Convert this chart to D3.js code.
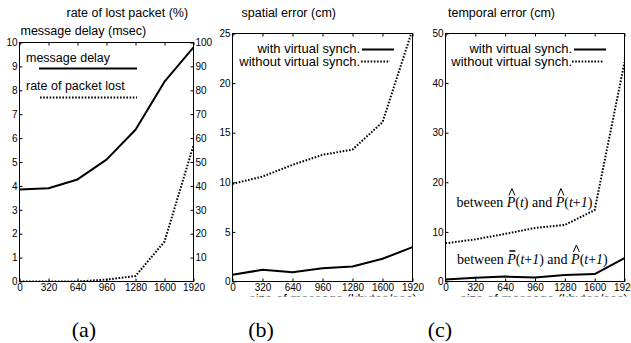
<!DOCTYPE html>
<html>
<head>
<meta charset="utf-8">
<script src="https://cdn.jsdelivr.net/npm/d3@7"></script>
<style>
  body { margin: 0; background: #fff; }
  svg { display: block; }
  text { font-family: "Liberation Sans", Arial, sans-serif; fill: #000; }
  .tick text { font-size: 10px; }
  .serif { font-family: "Liberation Serif", "Times New Roman", serif; }
</style>
</head>
<body>
<div id="chart"></div>
<script>
// message size (kbytes/sec) on every x axis
const sizes = [0, 320, 640, 960, 1280, 1600, 1920];

// (a) message delay (msec) and rate of lost packet (%)
const delayMs = [3.85, 3.9, 4.27, 5.1, 6.35, 8.36, 9.8];
const lostPct = [0, 0, 0, 0.8, 2.3, 16.7, 57];

// (b) spatial error (cm)
const spatialWith = [0.68, 1.18, 0.94, 1.34, 1.51, 2.29, 3.46];
const spatialWithout = [9.85, 10.58, 11.76, 12.77, 13.3, 16.06, 25.4];

// (c) temporal error (cm)
const temporalWith = [0.4, 0.75, 1.0, 0.8, 1.3, 1.5, 4.7];
const temporalWithout = [7.7, 8.5, 9.6, 10.8, 11.4, 14.4, 44.2];

const delayTicks = d3.range(0, 11, 1);
const lostTicks = d3.range(10, 101, 10);
const spatialTicks = [0, 5, 10, 15, 20, 25];
const temporalTicks = [0, 10, 20, 30, 40, 50];

const W = 631, H = 343;
const svg = d3.select('#chart').append('svg').attr('width', W).attr('height', H);

const solid = { width: 2, dash: null };
const dotted = { width: 2, dash: '1.6,1.6' };
const fmt = d3.format('d');

function panel(id, box, yMax, yTicks) {
  const x = d3.scaleLinear().domain([0, 1920]).range([box.left, box.right]);
  const y = d3.scaleLinear().domain([0, yMax]).range([box.bottom, box.top]);
  const g = svg.append('g');

  g.append('clipPath').attr('id', 'clip-' + id)
    .append('rect')
    .attr('x', box.left).attr('y', box.top)
    .attr('width', box.right - box.left).attr('height', box.bottom - box.top);

  g.append('g')
    .attr('transform', `translate(0,${box.bottom})`)
    .call(d3.axisBottom(x).tickValues(sizes).tickFormat(fmt).tickSizeInner(-3).tickSizeOuter(0).tickPadding(2))
    .call((a) => a.select('.domain').remove());
  g.append('g')
    .attr('transform', `translate(0,${box.top})`)
    .call(d3.axisTop(x).tickValues(sizes).tickSizeInner(-3).tickSizeOuter(0).tickFormat(''))
    .call((a) => a.select('.domain').remove());
  g.append('g')
    .attr('transform', `translate(${box.left},0)`)
    .call(d3.axisLeft(y).tickValues(yTicks).tickFormat(fmt).tickSizeInner(-3).tickSizeOuter(0).tickPadding(2))
    .call((a) => a.select('.domain').remove());

  g.append('rect')
    .attr('x', box.left).attr('y', box.top)
    .attr('width', box.right - box.left).attr('height', box.bottom - box.top)
    .attr('fill', 'none').attr('stroke', '#000').attr('stroke-width', 1);

  const lines = g.append('g').attr('clip-path', `url(#clip-${id})`);

  return { g, x, y, lines };
}

function drawLine(p, values, style, yScale) {
  const ys = yScale || p.y;
  const line = d3.line().x((d, i) => p.x(sizes[i])).y((d) => ys(d));
  p.lines.append('path')
    .datum(values)
    .attr('d', line)
    .attr('fill', 'none')
    .attr('stroke', '#000')
    .attr('stroke-width', style.width)
    .attr('stroke-dasharray', style.dash)
    .attr('stroke-linejoin', 'round');
}

function legendSwatch(g, x1, x2, yy, style) {
  g.append('line')
    .attr('x1', x1).attr('x2', x2).attr('y1', yy).attr('y2', yy)
    .attr('stroke', '#000')
    .attr('stroke-width', style.width)
    .attr('stroke-dasharray', style.dash);
}

// the x label sits mostly under the caption strip: only its top shows
function xLabel(p, id, cx, clipY) {
  p.g.append('clipPath').attr('id', 'xl-' + id)
    .append('rect').attr('x', 0).attr('y', 0).attr('width', W).attr('height', clipY);
  p.g.append('text')
    .attr('clip-path', `url(#xl-${id})`)
    .attr('x', cx).attr('y', 302.5)
    .attr('text-anchor', 'middle')
    .attr('font-size', 13)
    .text('size of message (kbytes/sec)');
}

// ---------- (a) ----------
const a = panel('a', { left: 19.5, right: 193.5, top: 42.5, bottom: 281.5 }, 10, delayTicks);
const yLost = d3.scaleLinear().domain([0, 100]).range([281.5, 42.5]);
a.g.append('g')
  .attr('transform', 'translate(193.5,0)')
  .call(d3.axisRight(yLost).tickValues(lostTicks).tickFormat(fmt).tickSizeInner(-3).tickSizeOuter(0).tickPadding(2))
  .call((ax) => ax.select('.domain').remove());
drawLine(a, delayMs, solid);
drawLine(a, lostPct, dotted, yLost);

a.g.append('text').attr('x', 66.5).attr('y', 16.5).attr('font-size', 12.5).text('rate of lost packet (%)');
a.g.append('text').attr('x', 20.5).attr('y', 35).attr('font-size', 12.5).text('message delay (msec)');
a.g.append('text').attr('x', 26).attr('y', 61.5).attr('font-size', 12.5).text('message delay');
legendSwatch(a.g, 39, 137, 68.5, solid);
a.g.append('text').attr('x', 26).attr('y', 90).attr('font-size', 12.5).text('rate of packet lost');
legendSwatch(a.g, 40, 137, 97.5, dotted);

// ---------- (b) ----------
const b = panel('b', { left: 232.5, right: 412.5, top: 33.5, bottom: 281.5 }, 25, spatialTicks);
drawLine(b, spatialWith, solid);
drawLine(b, spatialWithout, dotted);
b.g.append('text').attr('x', 241.5).attr('y', 17).attr('font-size', 12.5).text('spatial error (cm)');
b.g.append('text').attr('x', 360).attr('y', 53).attr('font-size', 13).attr('text-anchor', 'end').text('with virtual synch.');
legendSwatch(b.g, 362, 394, 49.5, solid);
b.g.append('text').attr('x', 360).attr('y', 66).attr('font-size', 13).attr('text-anchor', 'end').text('without virtual synch.');
legendSwatch(b.g, 361, 390, 61.5, dotted);
xLabel(b, 'b', 333, 296.5);

// ---------- (c) ----------
const c = panel('c', { left: 445.5, right: 624.5, top: 33.5, bottom: 281.5 }, 50, temporalTicks);
drawLine(c, temporalWith, solid);
drawLine(c, temporalWithout, dotted);
c.g.append('text').attr('x', 448).attr('y', 17).attr('font-size', 12.5).text('temporal error (cm)');
c.g.append('text').attr('x', 572).attr('y', 53).attr('font-size', 13).attr('text-anchor', 'end').text('with virtual synch.');
legendSwatch(c.g, 574, 606, 49.5, solid);
c.g.append('text').attr('x', 572).attr('y', 66).attr('font-size', 13).attr('text-anchor', 'end').text('without virtual synch.');
legendSwatch(c.g, 572, 603, 61.5, dotted);
xLabel(c, 'c', 544, 296.5);

// annotations in serif, P with hat / bar accents
function annotation(g, x0, y0, parts) {
  const t = g.append('text').attr('class', 'serif').attr('x', x0).attr('y', y0).attr('font-size', 14);
  parts.forEach((p) => {
    const s = t.append('tspan').text(p.s);
    if (p.it) s.attr('font-style', 'italic');
    if (p.accent) s.attr('data-accent', p.accent);
  });
  t.selectAll('tspan[data-accent]').each(function () {
    const e = this.getExtentOfChar(0);
    const cx = e.x + e.width / 2 + 1;
    const top = y0 - 9.5;
    if (this.getAttribute('data-accent') === 'hat') {
      g.append('path')
        .attr('d', `M${cx - 3},${top - 2}L${cx},${top - 9}L${cx + 3},${top - 2}`)
        .attr('fill', 'none').attr('stroke', '#000').attr('stroke-width', 1);
    } else {
      g.append('line')
        .attr('x1', cx - 3).attr('x2', cx + 3).attr('y1', top - 3).attr('y2', top - 3)
        .attr('stroke', '#000').attr('stroke-width', 1.5);
    }
  });
}

annotation(c.g, 456.5, 207, [
  { s: 'between ' }, { s: 'P', it: true, accent: 'hat' }, { s: '(' }, { s: 't', it: true }, { s: ') and ' },
  { s: 'P', it: true, accent: 'hat' }, { s: '(' }, { s: 't', it: true }, { s: '+' }, { s: '1', it: true }, { s: ')' },
]);
annotation(c.g, 457, 263.5, [
  { s: 'between ' }, { s: 'P', it: true, accent: 'bar' }, { s: '(' }, { s: 't', it: true }, { s: '+' }, { s: '1', it: true },
  { s: ') and ' }, { s: 'P', it: true, accent: 'hat' }, { s: '(' }, { s: 't', it: true }, { s: '+' }, { s: '1', it: true }, { s: ')' },
]);

// captions
[['(a)', 84], ['(b)', 261], ['(c)', 440]].forEach(([s, cx]) => {
  svg.append('text').attr('class', 'serif')
    .attr('x', cx).attr('y', 337).attr('text-anchor', 'middle').attr('font-size', 22)
    .text(s);
});
</script>
</body>
</html>
